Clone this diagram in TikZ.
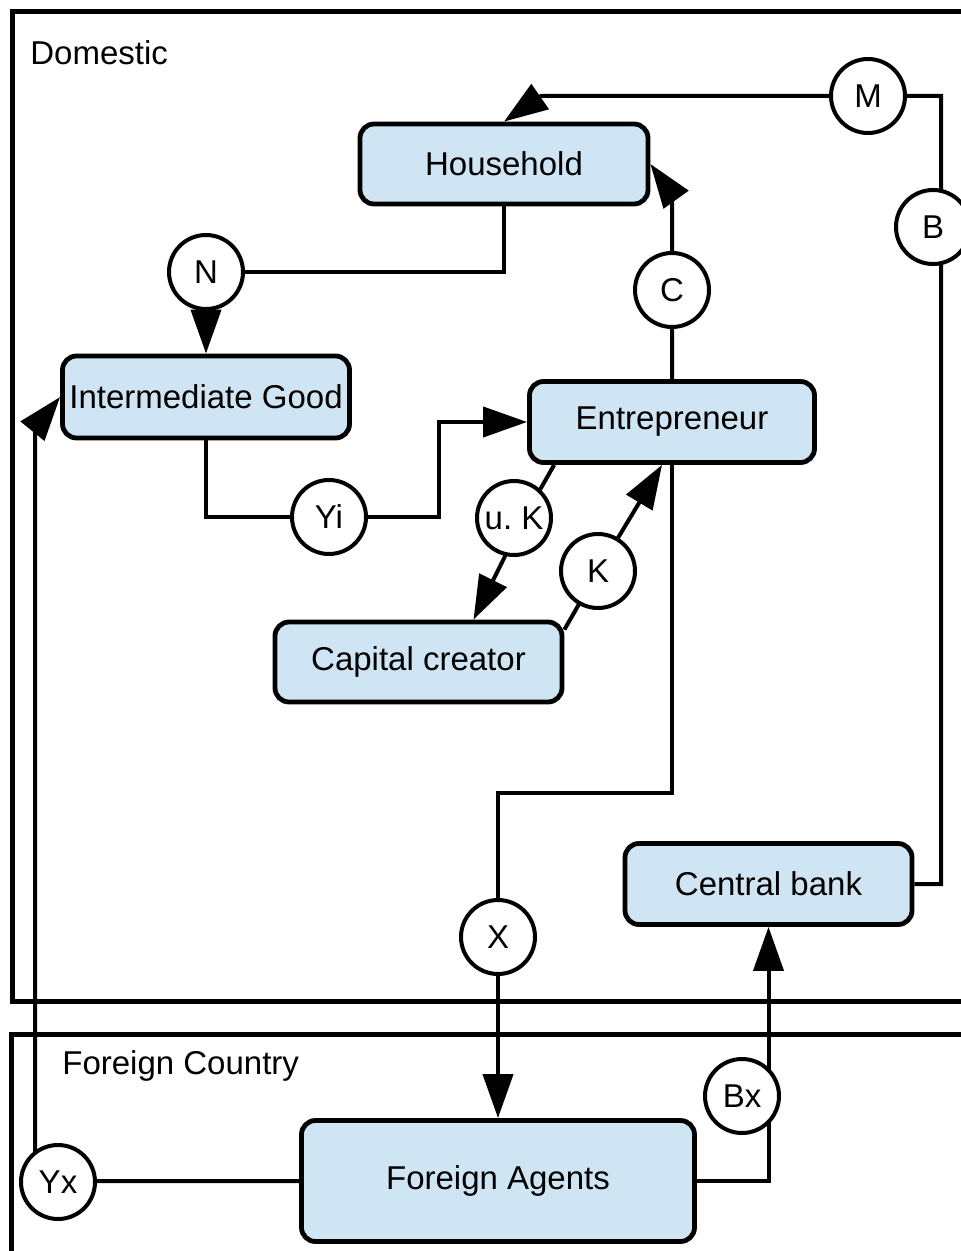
\documentclass[tikz,border=0pt]{standalone}
\usepackage{fontspec}
\setmainfont{Liberation Sans}
\usetikzlibrary{arrows.meta}
\pgfdeclarelayer{bg}
\pgfsetlayers{bg,main}
\definecolor{agentblue}{HTML}{CFE5F3}
\tikzset{
  agent/.style={draw, line width=2.4pt, fill=agentblue, rounded corners=7pt,
    inner sep=0pt, minimum width=143.5pt, minimum height=40.5pt},
  qty/.style={draw, circle, line width=2pt, fill=white, inner sep=0pt, minimum size=37pt},
  flow/.style={line width=2pt, -{Triangle[length=22pt,width=15pt]}},
  frame/.style={line width=2.5pt},
  caption/.style={anchor=west, inner sep=0pt}
}

\begin{document}
\begin{tikzpicture}[x=0.5pt, y=-0.5pt, font=\fontsize{16.5}{20}\selectfont]
  \useasboundingbox (0,0) rectangle (961,1251);
  \clip (0,0) rectangle (961,1251);

  % country frames
  \draw[frame] (1000,12) -- (12,12) -- (12,1001) -- (1000,1001);
  \draw[frame] (1000,1034) -- (11,1034) -- (11,1300);
  \node[caption] (dom) at (30,53) {Domestic};
  \node[caption] (for) at (62,1066) {Foreign Country};

  % agents
  \node[agent, minimum width=144pt, minimum height=40pt] (hh) at (504,164) {Household};
  \node[agent, minimum height=41pt] (ig) at (206,397) {Intermediate Good};
  \node[agent, minimum width=142.5pt] (ent) at (672,422) {Entrepreneur};
  \node[agent, minimum height=40pt] (cc) at (418.5,662) {Capital creator};
  \node[agent] (cb) at (768.5,884) {Central bank};
  \node[agent, minimum width=196.5pt, minimum height=60.5pt] (fa) at (498,1181) {Foreign Agents};

  % flows
  \node[qty] (M) at (868,96) {M};
  \node[qty] (B) at (933,227) {B};
  \node[qty] (N) at (206,272) {N};
  \node[qty] (C) at (672,290) {C};
  \node[qty] (Yi) at (329,517) {Yi};
  \node[qty] (uK) at (514,518) {u.\ K};
  \node[qty] (K) at (598,571) {K};
  \node[qty] (X) at (498,937) {X};
  \node[qty] (Bx) at (742,1096) {Bx};
  \node[qty] (Yx) at (58,1182) {Yx};

  \begin{pgfonlayer}{bg}
    \draw[flow] (cb.east) -| (941,96) -- (M.center) -- (541,96) -- (hh.north);
    \draw[flow] (hh.south) |- (N.center) -- (ig.north);
    \draw[flow] (ig.south) |- (Yi.center) -- (439,517) |- (ent.west);
    \draw[flow] ([xshift=13.5pt]ent.south west) -- ([xshift=5pt]uK.center) -- ([xshift=27.5pt]cc.north);
    \draw[flow] ([yshift=-5pt]cc.north east) -- (K.center) -- ([xshift=-5pt]ent.south);
    \draw[flow] (ent.north) -- (C.center) -- (672,194) -- (hh.east);
    \draw[flow] (ent.south) -- (672,793) -| (X.center) -- (fa.north);
    \draw[flow] (fa.east) -| (cb.south);
    \draw[flow] (fa.west) -- (35,1181) -- (35,428) -- (ig.west);
  \end{pgfonlayer}
\end{tikzpicture}
\end{document}
